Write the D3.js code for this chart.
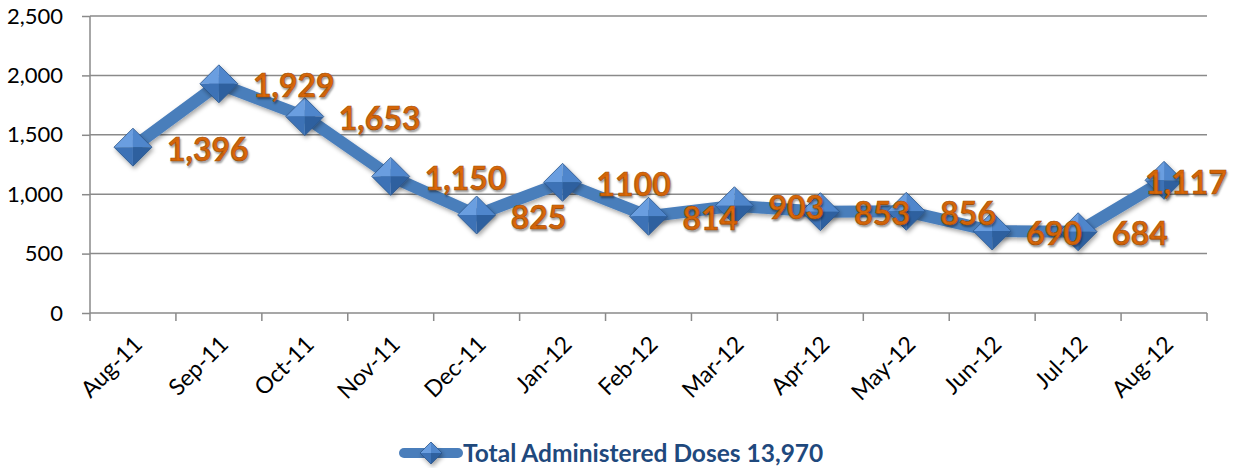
<!DOCTYPE html>
<html>
<head>
<meta charset="utf-8">
<script src="https://cdn.jsdelivr.net/npm/d3@7"></script>
<style>
    html, body { margin: 0; padding: 0; background: #fff; }
    svg text { font-family: Lato, "Open Sans", sans-serif; }
</style>
</head>
<body>
<div id="chart"></div>
<script>
const months = ['Aug-11', 'Sep-11', 'Oct-11', 'Nov-11', 'Dec-11', 'Jan-12', 'Feb-12',
    'Mar-12', 'Apr-12', 'May-12', 'Jun-12', 'Jul-12', 'Aug-12'];
const doses = [1396, 1929, 1653, 1150, 825, 1100, 814, 903, 853, 856, 690, 684, 1117];
const doseLabels = ['1,396', '1,929', '1,653', '1,150', '825', '1100', '814', '903', '853', '856', '690', '684', '1,117'];
const yTicks = [0, 500, 1000, 1500, 2000, 2500];
const legendText = 'Total Administered Doses 13,970';

(function () {
    const w = 1237, h = 468;
    const left = 90, right = 1207, top = 16, bottom = 313;

    const svg = d3.select('#chart').append('svg')
        .attr('width', w)
        .attr('height', h);

    const defs = svg.append('defs');
    const f = defs.append('filter').attr('id', 'shadow')
        .attr('x', '-50%').attr('y', '-50%').attr('width', '200%').attr('height', '200%');
    f.append('feDropShadow').attr('dx', 1.5).attr('dy', 2.5).attr('stdDeviation', 2)
        .attr('flood-color', '#000').attr('flood-opacity', 0.35);

    const x = d3.scaleBand().domain(months).range([left, right]);
    const y = d3.scaleLinear().domain([0, 2500]).range([bottom, top]);
    const cx = function (d) { return x(d) + x.bandwidth() / 2; };

    // gridlines
    svg.append('g').selectAll('line')
        .data(yTicks.filter(function (t) { return t > 0; }))
        .enter().append('line')
        .attr('x1', left).attr('x2', right)
        .attr('y1', function (d) { return y(d); })
        .attr('y2', function (d) { return y(d); })
        .attr('stroke', '#8a8a8a')
        .attr('stroke-width', 1.5);

    // y axis
    const yAxis = svg.append('g')
        .attr('transform', 'translate(' + left + ',0)')
        .call(d3.axisLeft(y).tickValues(yTicks).tickSize(8).tickPadding(19)
            .tickFormat(d3.format(',')));
    yAxis.selectAll('line, path').attr('stroke', '#8a8a8a').attr('stroke-width', 1.5);
    yAxis.select('.domain').attr('d', 'M0,' + top + 'V' + bottom);
    yAxis.selectAll('text').attr('font-size', 22).attr('fill', '#000')
        .attr('font-family', 'Lato, sans-serif');

    // x axis
    const xAxis = svg.append('g')
        .attr('transform', 'translate(0,' + bottom + ')')
        .call(d3.axisBottom(x).tickSize(0).tickFormat(''));
    xAxis.select('.domain').attr('stroke', '#8a8a8a').attr('stroke-width', 1.5)
        .attr('d', 'M' + left + ',0H' + right);
    const edges = months.map(function (m) { return x(m); }).concat([right]);
    xAxis.selectAll('.edge').data(edges).enter().append('line')
        .attr('class', 'edge')
        .attr('x1', function (d) { return d; }).attr('x2', function (d) { return d; })
        .attr('y1', 0).attr('y2', 8)
        .attr('stroke', '#8a8a8a').attr('stroke-width', 1.5);

    svg.append('g').selectAll('text')
        .data(months)
        .enter().append('text')
        .attr('transform', function (d) { return 'translate(' + (cx(d) + 5) + ',' + (bottom + 27) + ') rotate(-45)'; })
        .attr('text-anchor', 'end')
        .attr('dy', '0.35em')
        .attr('font-size', 23)
        .attr('fill', '#000')
        .text(function (d) { return d; });

    // line
    const line = d3.line()
        .x(function (d, i) { return cx(months[i]); })
        .y(function (d) { return y(d); });

    svg.append('path')
        .datum(doses)
        .attr('d', line)
        .attr('fill', 'none')
        .attr('stroke', '#4a7ebb')
        .attr('stroke-width', 12)
        .attr('stroke-linejoin', 'miter')
        .attr('filter', 'url(#shadow)');

    // pyramid diamond markers
    function diamond(g, s) {
        const facets = [
            { p: [[0, 0], [-s, 0], [0, -s]], c: '#6b9ee0' },
            { p: [[0, 0], [0, -s], [s, 0]], c: '#4f86cc' },
            { p: [[0, 0], [s, 0], [0, s]], c: '#2f609f' },
            { p: [[0, 0], [0, s], [-s, 0]], c: '#3c72b6' }
        ];
        g.selectAll('path.facet').data(facets).enter().append('path')
            .attr('class', 'facet')
            .attr('d', function (d) { return 'M' + d.p.join('L') + 'Z'; })
            .attr('fill', function (d) { return d.c; });
        g.append('path')
            .attr('d', 'M' + (-s) + ',0L0,' + (-s) + 'L' + s + ',0L0,' + s + 'Z')
            .attr('fill', 'none').attr('stroke', '#2a558c').attr('stroke-width', 0.8);
    }

    const markers = svg.append('g').selectAll('g')
        .data(doses)
        .enter().append('g')
        .attr('transform', function (d, i) { return 'translate(' + cx(months[i]) + ',' + y(d) + ')'; })
        .attr('filter', 'url(#shadow)');
    markers.each(function () { diamond(d3.select(this), 19); });

    // data labels
    const labels = svg.append('g').selectAll('text')
        .data(doses)
        .enter().append('text')
        .attr('y', function (d) { return y(d) + 2; })
        .attr('dy', '0.36em')
        .attr('font-size', 32)
        .attr('font-weight', 'bold')
        .attr('fill', '#e36c09')
        .attr('stroke', '#9a4a06')
        .attr('stroke-width', 0.6)
        .style('text-shadow', '1px 2px 2px rgba(0,0,0,0.35)')
        .text(function (d, i) { return doseLabels[i]; });
    labels.attr('x', function (d, i) {
        const tw = this.getComputedTextLength();
        return Math.min(cx(months[i]) + 34, w - 10 - tw);
    });

    // legend
    const lg = svg.append('g');
    lg.append('line')
        .attr('x1', 404).attr('x2', 458).attr('y1', 453).attr('y2', 453)
        .attr('stroke', '#4a7ebb').attr('stroke-width', 10).attr('stroke-linecap', 'round');
    const ld = lg.append('g').attr('transform', 'translate(431,453)').attr('filter', 'url(#shadow)');
    diamond(ld, 11);
    lg.append('text')
        .attr('x', 463).attr('y', 462)
        .attr('font-size', 24.5)
        .attr('font-weight', 'bold')
        .attr('fill', '#1f497d')
        .text(legendText);
})();
</script>
</body>
</html>
